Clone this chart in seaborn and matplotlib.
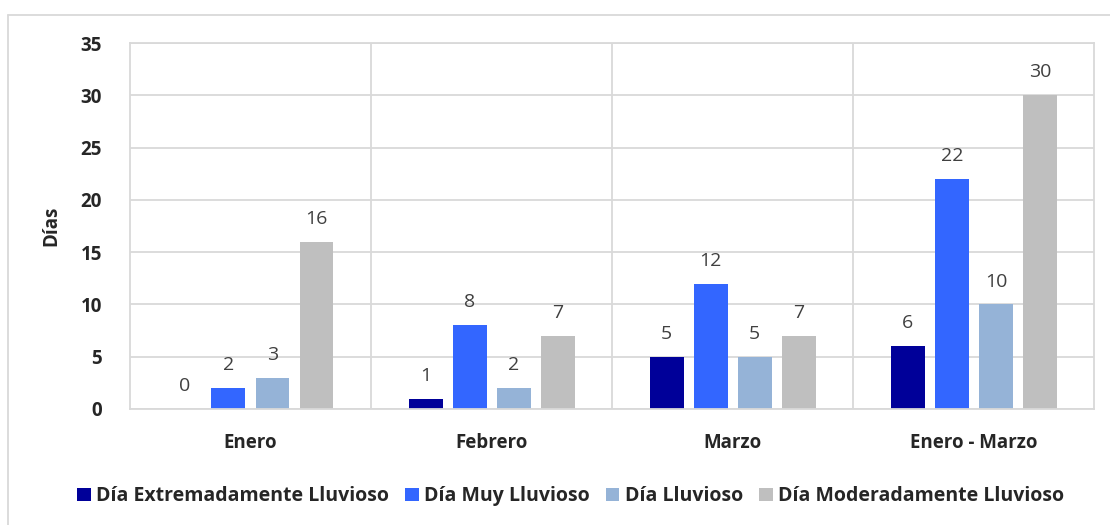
import pandas as pd
import numpy as np
import matplotlib.pyplot as plt
import seaborn as sns
from matplotlib.lines import Line2D

sns.set_theme(style="white")
plt.rcParams['font.family'] = ['Open Sans', 'DejaVu Sans']

# datos
meses = ['Enero', 'Febrero', 'Marzo', 'Enero - Marzo']
series = ['Día Extremadamente Lluvioso', 'Día Muy Lluvioso', 'Día Lluvioso',
          'Día Moderadamente Lluvioso']
extrem = [0, 1, 5, 6]
muy = [2, 8, 12, 22]
lluv = [3, 2, 5, 10]
moder = [16, 7, 7, 30]
colores = ['#000099', '#3366FF', '#95B3D7', '#BFBFBF']

df = pd.DataFrame({
    'Mes': meses * 4,
    'Tipo': [s for s in series for _ in meses],
    'Dias': extrem + muy + lluv + moder,
})

fig = plt.figure(figsize=(11.1, 5.25), dpi=100)
ax = fig.add_axes([0.117, 0.221, 0.869, 0.697])

sns.barplot(data=df, x='Mes', y='Dias', hue='Tipo', order=meses, hue_order=series,
            palette=colores, width=0.73, gap=0.23, saturation=1, linewidth=0,
            ax=ax, legend=True)

for cont in ax.containers:
    ax.bar_label(cont, padding=10, fontsize=14, color='#404040')

ax.set_ylim(0, 35)
ax.set_yticks(range(0, 36, 5))
ax.set_xlim(-0.5, 3.5)
ax.set_xticks([0.5, 1.5, 2.5], minor=True)
ax.grid(axis='y', color='#D9D9D9', linewidth=1.3)
ax.grid(axis='x', which='minor', color='#D9D9D9', linewidth=1.3)
ax.set_axisbelow(True)
for sp in ax.spines.values():
    sp.set_color('#D9D9D9')
    sp.set_linewidth(1.3)
ax.tick_params(which='both', length=0)
ax.tick_params(axis='y', pad=20, labelsize=13.5)
ax.tick_params(axis='x', pad=17, labelsize=13.5)
for lab in ax.get_xticklabels() + ax.get_yticklabels():
    lab.set_fontweight('bold')
ax.set_xlabel('')
ax.set_ylabel('Días', fontsize=13.5, fontweight='bold', labelpad=14)

ax.legend(loc='upper center', bbox_to_anchor=(0.457, -0.163), ncol=4, frameon=False,
          handlelength=0.7, handleheight=0.7, handletextpad=0.3, columnspacing=0.8,
          prop={'weight': 'bold', 'size': 14})

# marco exterior
fig.add_artist(Line2D([8 / 1110, 1.0], [1 - 15 / 525] * 2, color='#D9D9D9', lw=1.3,
                      transform=fig.transFigure))
fig.add_artist(Line2D([8 / 1110] * 2, [0, 1 - 15 / 525], color='#D9D9D9', lw=1.3,
                      transform=fig.transFigure))

plt.savefig('out.png', dpi=100)
plt.close()
